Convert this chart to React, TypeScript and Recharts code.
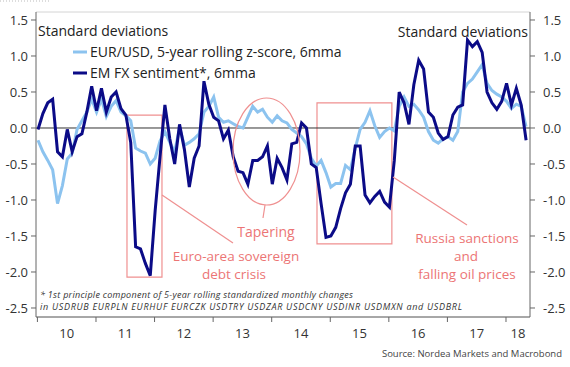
import React from "react"
import { LineChart, Line, XAxis, YAxis, CartesianGrid, ReferenceLine, ReferenceArea } from "recharts"

// monthly, Jan 2010 .. May 2018
const EURUSD_Z = [
  -0.17, -0.33, -0.45, -0.58, -1.05, -0.8, -0.43, -0.35, -0.02, 0.1, 0.22, 0.4,
  0.22, 0.4, 0.16, 0.3, 0.38, 0.22, 0.17, 0.1, -0.28, -0.32, -0.35, -0.5,
  -0.42, -0.18, -0.05, -0.2, -0.33, 0.0, -0.24, -0.2, -0.15, -0.08, 0.22, 0.3,
  0.43, 0.15, 0.08, 0.1, 0.06, 0.02, 0.0, 0.15, 0.3, 0.22, 0.26, 0.15,
  0.08, 0.17, 0.1, 0.07, -0.02, -0.07, -0.12, -0.22, -0.42, -0.53, -0.45, -0.62,
  -0.82, -0.77, -0.77, -0.52, -0.58, -0.28, -0.02, 0.08, 0.24, 0.03, -0.13, -0.05,
  0.0, -0.04, 0.3, 0.43, 0.3, 0.33, 0.25, 0.15, -0.05, -0.17, -0.21, -0.15,
  -0.12, -0.17, -0.05, 0.5, 0.62, 0.68, 0.78, 0.88, 0.62, 0.52, 0.47, 0.43,
  0.37, 0.27, 0.33, 0.3, 0.02,
]

const EM_FX = [
  -0.02, 0.2, 0.35, 0.4, -0.33, -0.4, -0.02, -0.33, -0.12, -0.08, 0.22, 0.58,
  0.24, 0.55, 0.22, 0.43, 0.5, 0.27, 0.18, -0.2, -1.65, -1.68, -1.88, -2.05,
  -1.15, -0.4, 0.32, -0.15, -0.5, 0.05, -0.3, -0.82, -0.42, -0.25, 0.65, 0.33,
  0.15, 0.1, -0.15, -0.03, -0.4, -0.6, -0.62, -0.78, -0.45, -0.45, -0.4, -0.25,
  -0.78, -0.42, -0.55, -0.72, -0.22, -0.2, 0.07, 0.0, -0.5, -0.55, -1.05, -1.52,
  -1.5, -1.38, -1.12, -0.9, -0.78, -0.25, -0.25, -0.93, -1.04, -0.95, -0.88, -1.03,
  -1.1, -0.45, 0.5, 0.35, 0.05, 0.6, 0.94, 0.82, 0.22, 0.15, -0.07, -0.16,
  -0.12, 0.18, 0.29, 0.32, 1.22, 1.13, 1.2, 1.05, 0.5, 0.35, 0.26, 0.37,
  0.62, 0.32, 0.55, 0.32, -0.17,
]

const YEARS = ["10", "11", "12", "13", "14", "15", "16", "17", "18"]
const Y_TICKS = [1.5, 1.0, 0.5, 0, -0.5, -1.0, -1.5, -2.0, -2.5]

const X_MIN = -0.41
const X_MAX = 100.8
const Y_MIN = -2.625
const Y_MAX = 1.611

const data = EM_FX.map((v, i) => ({ month: i, emfx: v, eurusd: EURUSD_Z[i] }))

const yearStarts = YEARS.map((_, k) => 12 * k - 0.12)
const yearCenters = YEARS.map((_, k) =>
  k < YEARS.length - 1 ? 12 * k + 5.88 : (yearStarts[k] + X_MAX) / 2
)

const FONT = "'Open Sans', 'Noto Sans', sans-serif"
const RED = "#ec7575"
const RED_LINE = "#ef9090"
const DARK = "#0b0b87"
const LIGHT = "#8cc3ef"

const YearTick = (props: any) => {
  const { x, y, payload } = props
  const idx = yearCenters.findIndex((c) => Math.abs(c - payload.value) < 1e-6)
  if (idx >= 0) {
    return (
      <text x={x} y={y + 21} textAnchor="middle" fontSize={13} fill="#333" fontFamily={FONT}>
        {YEARS[idx]}
      </text>
    )
  }
  return <line x1={x} x2={x} y1={y} y2={y + 5} stroke="#666" />
}

export default function App() {
  return (
    <div style={{ position: "relative", width: 570, height: 367, background: "#fff" }}>
      <style>{"body{margin:0}"}</style>
      <LineChart
        width={570}
        height={367}
        data={data}
        margin={{ top: 12, right: 0, bottom: 0, left: 0 }}
        style={{ fontFamily: FONT }}
      >
        <CartesianGrid horizontal vertical={false} stroke="#d4d4d4" />
        <XAxis
          dataKey="month"
          type="number"
          domain={[X_MIN, X_MAX]}
          allowDataOverflow
          ticks={[...yearStarts, ...yearCenters].sort((a, b) => a - b)}
          interval={0}
          tick={<YearTick />}
          tickLine={false}
          tickSize={0}
          tickMargin={0}
          height={50}
          axisLine={{ stroke: "#666" }}
        />
        <YAxis
          yAxisId="left"
          orientation="left"
          width={36}
          domain={[Y_MIN, Y_MAX]}
          allowDataOverflow
          ticks={Y_TICKS}
          interval={0}
          tickFormatter={(v: number) => v.toFixed(1)}
          tick={{ fontSize: 13, fill: "#333", fontFamily: FONT }}
          tickSize={5}
          tickMargin={3}
          axisLine={{ stroke: "#666" }}
          tickLine={{ stroke: "#666" }}
        />
        <YAxis
          yAxisId="right"
          orientation="right"
          width={40}
          domain={[Y_MIN, Y_MAX]}
          allowDataOverflow
          ticks={Y_TICKS}
          interval={0}
          tickFormatter={(v: number) => v.toFixed(1)}
          tick={{ fontSize: 13, fill: "#333", fontFamily: FONT }}
          tickSize={5}
          tickMargin={8}
          axisLine={{ stroke: "#666" }}
          tickLine={{ stroke: "#666" }}
        />
        <ReferenceLine yAxisId="left" y={0} stroke="#333" />
        <ReferenceArea
          yAxisId="left"
          x1={18.23}
          x2={25.4}
          y1={-2.07}
          y2={0.18}
          fill="none"
          stroke={RED_LINE}
          strokeWidth={1.2}
          ifOverflow="visible"
        />
        <ReferenceArea
          yAxisId="left"
          x1={57.16}
          x2={72.5}
          y1={-1.61}
          y2={0.35}
          fill="none"
          stroke={RED_LINE}
          strokeWidth={1.2}
          ifOverflow="visible"
        />
        <Line
          yAxisId="right"
          dataKey="eurusd"
          stroke={LIGHT}
          strokeWidth={3}
          dot={false}
          isAnimationActive={false}
        />
        <Line
          yAxisId="left"
          dataKey="emfx"
          stroke={DARK}
          strokeWidth={3}
          dot={false}
          isAnimationActive={false}
        />
      </LineChart>

      <svg
        width={570}
        height={367}
        style={{ position: "absolute", left: 0, top: 0, pointerEvents: "none", fontFamily: FONT }}
      >
        <line x1={0} x2={50} y1={1} y2={1} stroke="#bbb" strokeDasharray="1 2" />
        <text x={38} y={36} fontSize={14} fill="#222">Standard deviations</text>
        <text x={528} y={37} fontSize={14} fill="#222" textAnchor="end">Standard deviations</text>

        <line x1={73} x2={87} y1={52} y2={52} stroke={LIGHT} strokeWidth={3} />
        <text x={90} y={57} fontSize={14} fill="#222">EUR/USD, 5-year rolling z-score, 6mma</text>
        <line x1={73} x2={87} y1={73} y2={73} stroke={DARK} strokeWidth={3} />
        <text x={90} y={78} fontSize={14} fill="#222">EM FX sentiment*, 6mma</text>

        <ellipse cx={266.5} cy={151.5} rx={33.5} ry={53.5} fill="none" stroke={RED_LINE} strokeWidth={1.2} />
        <line x1={265} y1={205} x2={263} y2={218} stroke={RED_LINE} strokeWidth={1.2} />
        <line x1={162} y1={195} x2={233} y2={243} stroke={RED_LINE} strokeWidth={1.2} />
        <line x1={393} y1={177} x2={467} y2={225} stroke={RED_LINE} strokeWidth={1.2} />

        <text x={266} y={237} fontSize={14} fill={RED} textAnchor="middle">Tapering</text>
        <text x={236} y={261} fontSize={13.5} fill={RED} textAnchor="middle">Euro-area sovereign</text>
        <text x={234} y={279} fontSize={13.5} fill={RED} textAnchor="middle">debt crisis</text>
        <text x={467} y={243} fontSize={13.5} fill={RED} textAnchor="middle">Russia sanctions</text>
        <text x={466} y={261} fontSize={13.5} fill={RED} textAnchor="middle">and</text>
        <text x={467} y={279} fontSize={13.5} fill={RED} textAnchor="middle">falling oil prices</text>

        <text x={40} y={298} fontSize={9} fontStyle="italic" fill="#333" textLength={313} lengthAdjust="spacing">
          * 1st principle component of 5-year rolling standardized monthly changes
        </text>
        <text x={40} y={310} fontSize={9} fontStyle="italic" fill="#333" textLength={422} lengthAdjust="spacing">
          in USDRUB EURPLN EURHUF EURCZK USDTRY USDZAR USDCNY USDINR USDMXN and USDBRL
        </text>
        <text x={562} y={357} fontSize={9.5} fill="#444" textAnchor="end">
          Source: Nordea Markets and Macrobond
        </text>
      </svg>
    </div>
  )
}
